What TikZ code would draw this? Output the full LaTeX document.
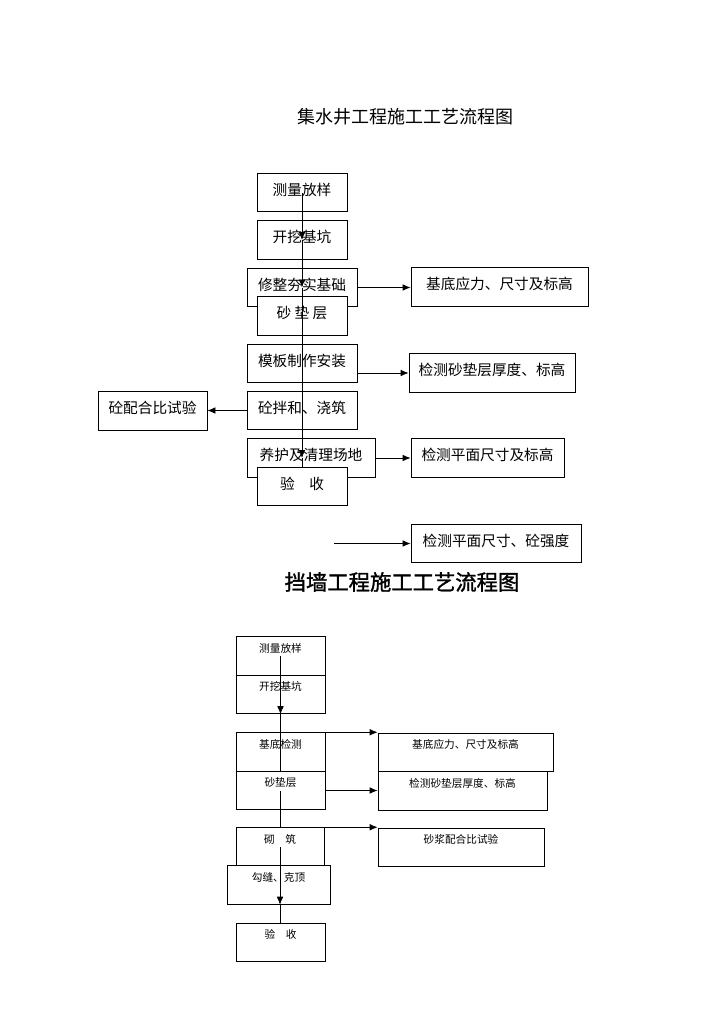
\documentclass[tikz,border=0pt]{standalone}
\usepackage{fontspec}
\setmainfont{Noto Sans CJK SC}
\newfontfamily\cjkbold{Noto Sans CJK SC}[FakeBold=1.5]
\usetikzlibrary{arrows.meta}
\begin{document}
\begin{tikzpicture}[x=0.75pt, y=-0.75pt, >={Latex[length=6pt,width=5pt]},
    box/.style={draw, fill=white, line width=0.6pt, minimum height=29pt, inner sep=0pt, text height=8pt, text depth=4pt, font=\fontsize{11}{13}\selectfont},
    sbox/.style={draw, fill=white, line width=0.6pt, minimum height=29pt, inner sep=0pt},
    blab/.style={anchor=north, inner sep=0pt, yshift=-5pt, font=\fontsize{8}{10}\selectfont},
    conn/.style={line width=0.6pt}]
    \useasboundingbox (0,0) rectangle (724,1024);
    \node[font=\fontsize{13.5}{16}\selectfont] (title1) at (405,117) {集水井工程施工工艺流程图};
    \node[font=\fontsize{16}{19}\cjkbold] (title2) at (402,582) {挡墙工程施工工艺流程图};
    % upper chart
    \foreach \n/\x/\y/\w/\t in {cl/302/192.5/67.5/测量放样, kw/302/240/67.5/开挖基坑,
        xz/302/287.5/82.5/修整夯实基础, sd/302/316/67.5/砂 垫 层, mb/302/363.5/82.5/模板制作安装,
        tb/302/410.5/82.5/砼拌和、浇筑, yh/311/458/96/养护及清理场地, ys/302/486.5/67.5/验\quad 收,
        ra/499.5/287/132.75/基底应力、尺寸及标高, rb/492/373/124.5/检测砂垫层厚度、标高,
        lc/152.5/411/81.75/砼配合比试验, rc/487.5/458/114.75/检测平面尺寸及标高,
        rd/496/543.5/127.5/检测平面尺寸、砼强度}
    \node[box, minimum width=\w pt] (\n) at (\x,\y) {\t};
    \draw[conn, ->] (cl.center) -- (kw.center);
    \draw[conn, ->] (kw.center) -- (xz.center);
    \draw[conn, ->] (xz.center) -- (xz.center |- yh.center);
    \draw[conn] (xz.center |- yh.center) -- (ys.north);
    \draw[conn, ->] (xz.east) -- (xz.east -| ra.west);
    \draw[conn, ->] (mb.east |- rb.west) -- (rb.west);
    \draw[conn, ->] (tb.west) -- (tb.west -| lc.east);
    \draw[conn, ->] (yh.east) -- (yh.east -| rc.west);
    \coordinate (free) at (334,543.5);
    \draw[conn, ->] (free) -- (rd.west);
    % lower chart
    \foreach \n/\x/\y/\w/\t in {bcl/280.5/656/66.75/测量放样, bkw/280.5/694.5/66.75/开挖基坑,
        bjc/280.5/752/66.75/基底检测, bsd/280.5/790.5/66.75/砂垫层, bqz/280/847/66/砌\quad 筑,
        bgf/278.5/885/77.25/勾缝、克顶, bys/280.5/942.5/66.75/验\quad 收,
        ca/465.5/752.5/131.25/基底应力、尺寸及标高, cb/462.5/791/126.75/检测砂垫层厚度、标高,
        cc/461/847.5/124.5/砂浆配合比试验}
    \node[sbox, minimum width=\w pt, label={[blab]north:\t}] (\n) at (\x,\y) {};
    \draw[conn, ->] (bcl.center) -- (bkw.south);
    \draw[conn] (bkw.south) -- (bjc.south);
    \draw[conn] (bsd.center) -- (bsd.center |- bqz.north);
    \draw[conn, ->] (bqz.center) -- (bqz.center |- bgf.south);
    \draw[conn] (bqz.center |- bgf.south) -- (bqz.center |- bys.north);
    \draw[conn, ->] (bjc.north east) -- (bjc.north east -| ca.west);
    \draw[conn, ->] (bsd.east) -- (bsd.east -| cb.west);
    \draw[conn, ->] (bqz.north east) -- (bqz.north east -| cc.west);
\end{tikzpicture}
\end{document}
